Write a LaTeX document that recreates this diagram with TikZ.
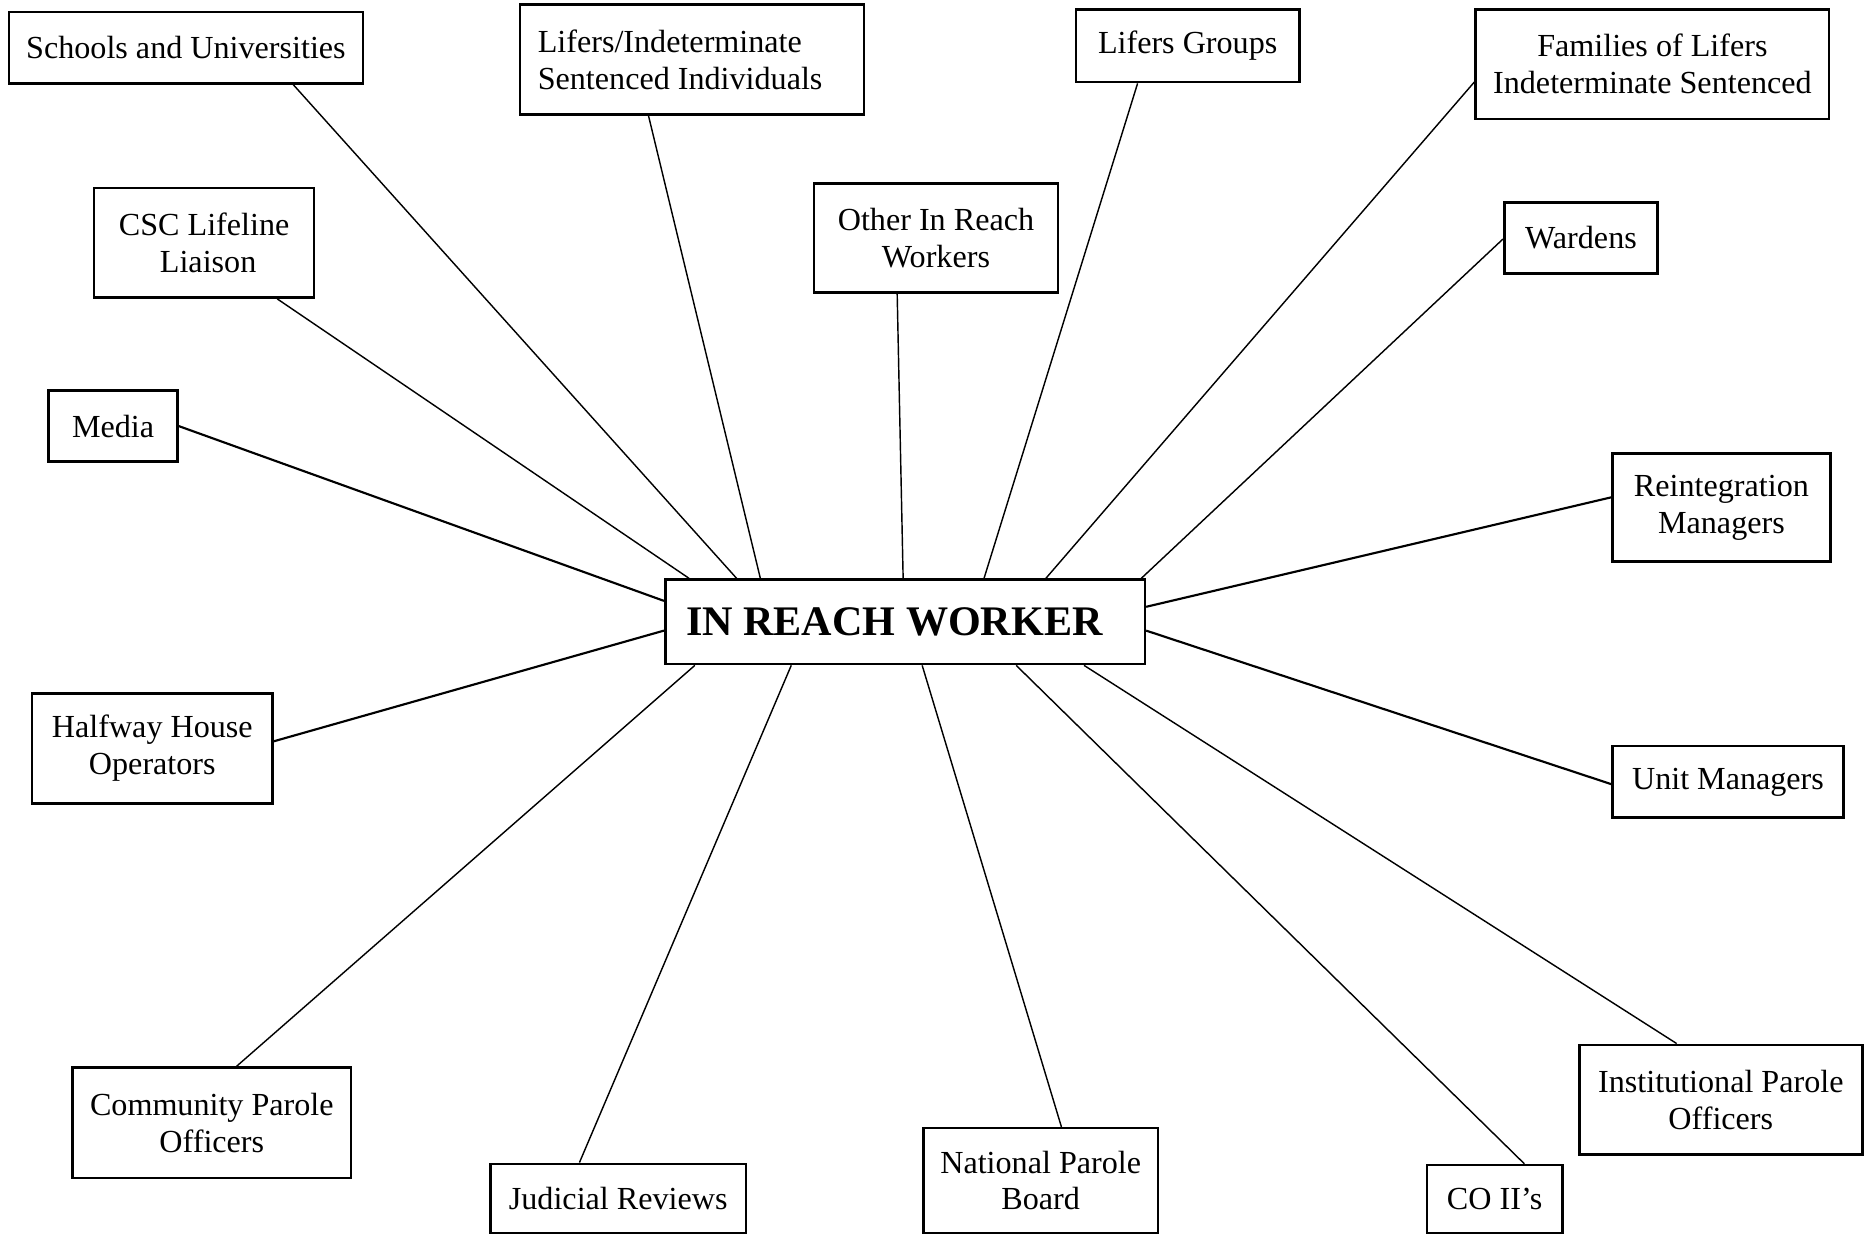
\documentclass[tikz,border=0pt]{standalone}
\usepackage{fontspec}
\setmainfont{Liberation Serif}
\begin{document}
\begin{tikzpicture}[x=0.5pt,y=-0.5pt,
  box/.style={draw, line width=1.1pt, inner sep=0pt, align=center, font=\fontsize{13.5}{15.5}\selectfont},
  link/.style={line width=0.6pt},
  thick link/.style={line width=0.9pt}]
\useasboundingbox[fill=white] (0,0) rectangle (1568,1038);
% nodes
\node[box, minimum width=148.75pt, minimum height=30pt] (schools) at (156.25,40) {Schools and Universities};
\node[box, minimum width=144.5pt, minimum height=46pt, align=left] (lifers) at (581.5,50) {Lifers/Indeterminate\\Sentenced Individuals\hspace*{10pt}};
\node[box, minimum width=92.5pt, minimum height=46pt] (csc) at (171.5,204) {CSC Lifeline\\\ Liaison};
\node[box, minimum width=102.5pt, minimum height=46pt] (other) at (786.5,200) {Other In Reach\\Workers};
\node[box, minimum width=54pt, minimum height=30pt] (media) at (95,358) {Media};
\node[box, minimum width=101pt, minimum height=46pt] (halfway) at (128,629) {Halfway House\\Operators};
\node[box, minimum width=201.5pt, minimum height=35.5pt, font=\fontsize{17.7}{20}\selectfont\bfseries] (irw) at (760.5,522.5) {IN REACH WORKER\kern9pt};
\node[box, minimum width=94pt, minimum height=30.5pt] (groups) at (998,38.5) {Lifers Groups};
\node[box, minimum width=148.5pt, minimum height=46pt] (families) at (1388.5,54) {Families of Lifers\\Indeterminate Sentenced};
\node[box, minimum width=64.5pt, minimum height=30pt] (wardens) at (1328.5,200) {Wardens};
\node[box, minimum width=91.5pt, minimum height=45.5pt] (reint) at (1446.5,426.5) {Reintegration\\Managers};
\node[box, minimum width=97pt, minimum height=30pt] (unit) at (1452,657) {Unit Managers};
\node[box, minimum width=117pt, minimum height=46.5pt] (community) at (178,943.5) {Community Parole\\Officers};
\node[box, minimum width=107.5pt, minimum height=29pt] (judicial) at (519.5,1007) {Judicial Reviews};
\node[box, minimum width=98.5pt, minimum height=44pt] (national) at (874.5,992) {National Parole\\Board};
\node[box, minimum width=57pt, minimum height=28.5pt] (coii) at (1256,1007.5) {CO II’s};
\node[box, minimum width=119pt, minimum height=46pt] (inst) at (1446,924) {Institutional Parole\\Officers};
% connectors
\draw[link] ([xshift=120pt]schools.south west) -- ([xshift=30.5pt]irw.north west);
\draw[link] ([xshift=77.5pt]csc.south west) -- ([xshift=10.5pt]irw.north west);
\draw[link] ([xshift=54.5pt]lifers.south west) -- ([xshift=40.5pt]irw.north west);
\draw[link] ([xshift=35.5pt]other.south west) -- ([xshift=100.5pt]irw.north west);
\draw[link] ([xshift=26.5pt]groups.south west) -- ([xshift=134.5pt]irw.north west);
\draw[link] ([yshift=-31pt]families.north west) -- ([xshift=160.5pt]irw.north west);
\draw[link] ([yshift=-16pt]wardens.north west) -- ([xshift=-2pt]irw.north east);
\draw[thick link] (media.east) -- ([yshift=-9.5pt]irw.north west);
\draw[thick link] ([yshift=-20.5pt]halfway.north east) -- ([yshift=-22pt]irw.north west);
\draw[thick link] ([yshift=-19pt]reint.north west) -- ([yshift=-12pt]irw.north east);
\draw[thick link] ([yshift=-16.5pt]unit.north west) -- ([yshift=-22pt]irw.north east);
\draw[link] ([xshift=69.5pt]community.north west) -- ([xshift=13pt]irw.south west);
\draw[link] ([xshift=38pt]judicial.north west) -- ([xshift=53.5pt]irw.south west);
\draw[link] ([xshift=58.5pt]national.north west) -- ([xshift=108.5pt]irw.south west);
\draw[link] ([xshift=41.5pt]coii.north west) -- ([xshift=148pt]irw.south west);
\draw[link] ([xshift=41.5pt]inst.north west) -- ([xshift=176.5pt]irw.south west);
\end{tikzpicture}
\end{document}
